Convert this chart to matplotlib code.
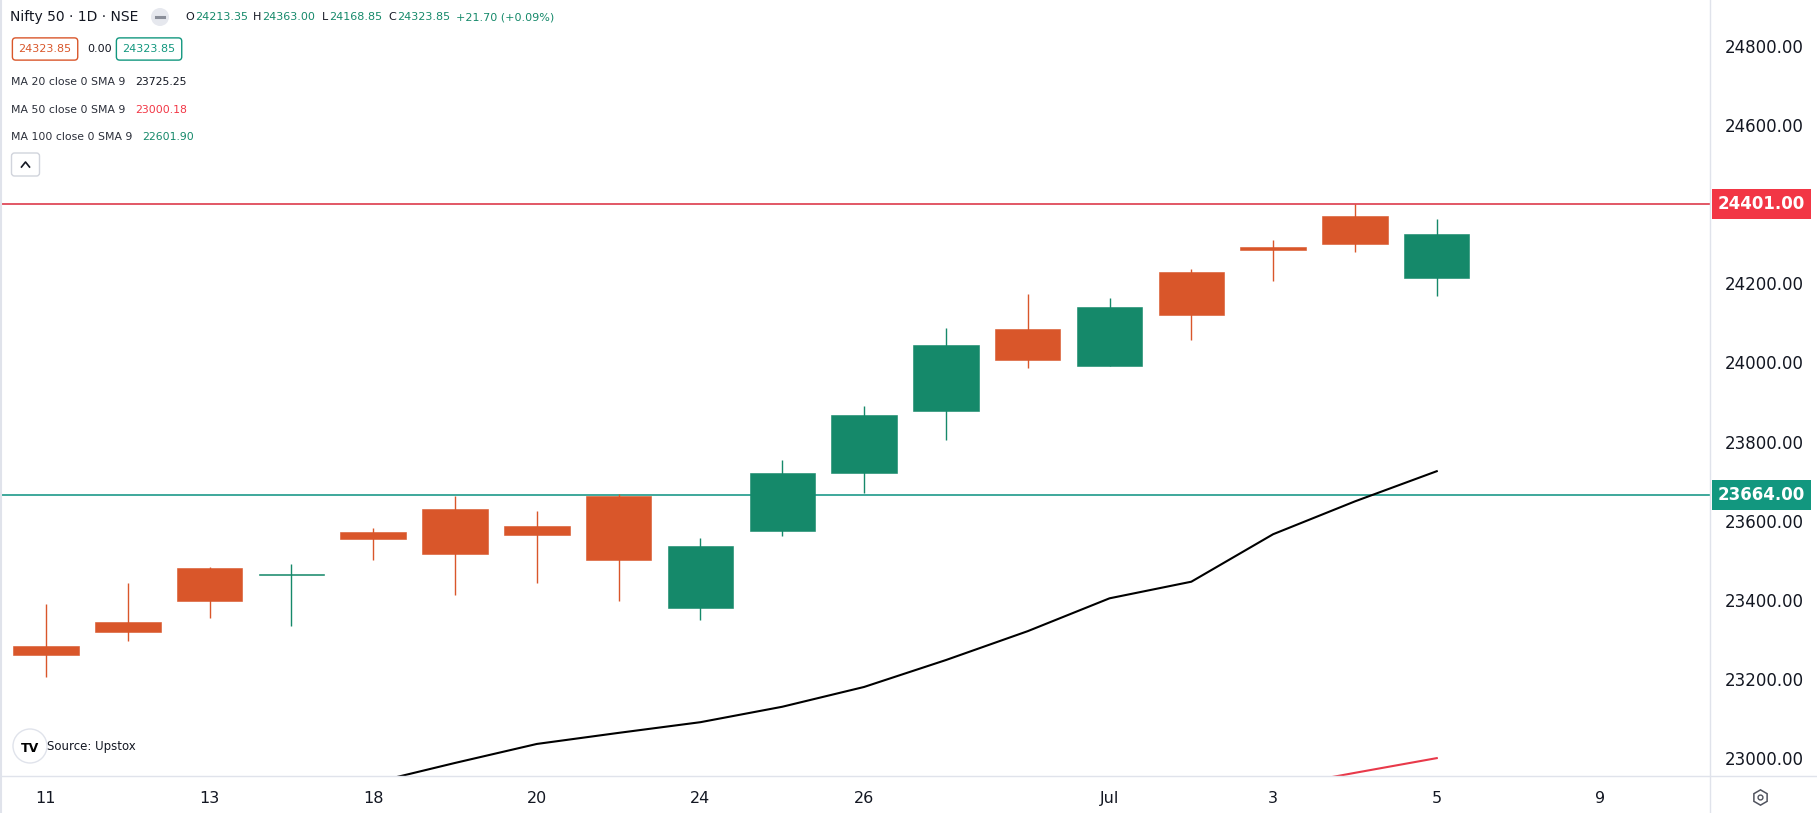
import matplotlib
matplotlib.use('Agg')
import matplotlib.pyplot as plt
from matplotlib.patches import Circle, FancyBboxPatch
from matplotlib.lines import Line2D
import numpy as np

# daily candles, Nifty 50, Jun 11 - Jul 5
days = ['Jun 11', 'Jun 12', 'Jun 13', 'Jun 14', 'Jun 18', 'Jun 19', 'Jun 20', 'Jun 21', 'Jun 24',
        'Jun 25', 'Jun 26', 'Jun 27', 'Jun 28', 'Jul 1', 'Jul 2', 'Jul 3', 'Jul 4', 'Jul 5']
opens = [23283, 23344, 23480, 23464, 23572, 23630, 23587, 23663, 23380,
         23575, 23721, 23878, 24085, 23992, 24229, 24292, 24370, 24213.35]
highs = [23390, 23443, 23484, 23490, 23582, 23663, 23625, 23668, 23556,
         23753, 23890, 24087, 24173, 24163, 24236, 24309, 24401, 24363.00]
lows = [23206, 23297, 23355, 23334, 23500, 23413, 23443, 23398, 23350,
        23561, 23671, 23805, 23987, 23992, 24058, 24207, 24280, 24168.85]
closes = [23262, 23320, 23398, 23466, 23554, 23515, 23565, 23500, 23536,
          23721, 23867, 24044, 24007, 24140, 24121, 24285, 24300, 24323.85]

# moving averages (only the visible part)
ma20 = [None, None, None, None, 22938, 22988, 23036, 23064, 23091,
        23130, 23180, 23248, 23321, 23404, 23446, 23566, 23649, 23725.25]
ma50 = [None] * 15 + [22925, 22963, 23000.18]

# horizontal levels
resistance = 24401.00
support = 23664.00

# x axis labels (bar index -> text), two future days continue the spacing
tick_idx = [0, 2, 4, 6, 8, 10, 13, 15, 17, 19]
tick_txt = ['11', '13', '18', '20', '24', '26', 'Jul', '3', '5', '9']
yticks = list(range(23000, 24801, 200))

UP = '#15896A'
DOWN = '#D9562A'
RED = '#F23645'
TEAL = '#12977F'
TXT = '#131722'
GRID = '#E0E3EB'

W, H = 1817, 813
fig = plt.figure(figsize=(W / 100, H / 100), dpi=100)
ax = fig.add_axes([0, 37 / H, 1710 / W, 776 / H])

x = np.arange(len(days))
o = np.array(opens); c = np.array(closes)
cols = [UP if cc >= oo else DOWN for oo, cc in zip(o, c)]
bottom = np.minimum(o, c)
height = np.maximum(np.abs(c - o), 2.5)
ax.vlines(x, lows, highs, colors=cols, linewidth=1.0, zorder=2)
ax.bar(x, height, bottom=bottom, width=0.8, color=cols, edgecolor=cols, linewidth=0.4, zorder=3)

ma20_arr = np.array([np.nan if v is None else v for v in ma20], dtype=float)
ma50_arr = np.array([np.nan if v is None else v for v in ma50], dtype=float)
ax.plot(x, ma20_arr, color='black', lw=1.5, zorder=4)
ax.plot(x, ma50_arr, color='#E8394A', lw=1.5, zorder=4)

ax.axhline(resistance, color='#DD3B4C', lw=1.2, zorder=1)
ax.axhline(support, color='#1E9A8A', lw=1.2, zorder=1)

ax.set_xlim(-0.562, 20.34)
ax.set_ylim(22955, 24916)
for s in ax.spines.values():
    s.set_visible(False)

ax.yaxis.tick_right()
ax.set_yticks(yticks)
ax.set_yticklabels(['%.2f' % v for v in yticks])
ax.tick_params(axis='y', length=0, pad=10.8, labelsize=12, labelcolor=TXT)
ax.set_xticks(tick_idx)
ax.set_xticklabels(tick_txt)
ax.tick_params(axis='x', length=0, pad=10.5, labelsize=11.5, labelcolor=TXT)

# price tags on the right scale
for lvl, col in [(resistance, RED), (support, TEAL)]:
    ax.annotate('%.2f' % lvl, xy=(1, lvl), xycoords=('axes fraction', 'data'),
                xytext=(5.8, 0), textcoords='offset points', ha='left', va='center',
                color='white', fontsize=12, fontweight='bold',
                bbox=dict(boxstyle='square,pad=0.36', fc=col, ec='none'),
                annotation_clip=False, zorder=10)

# frame lines of the chart panes
T = fig.dpi_scale_trans
def P(px, py):
    return px / 100, (H - py) / 100
fig.add_artist(Line2D([17.10, 17.10], [0, H / 100], transform=T, color=GRID, lw=1))
fig.add_artist(Line2D([0, W / 100], [(H - 776) / 100] * 2, transform=T, color=GRID, lw=1))
fig.add_artist(Line2D([0.005, 0.005], [0, H / 100], transform=T, color=GRID, lw=1.5))

# legend block top-left
def ftext(px, py, s, **kw):
    fig.text(px / W, 1 - py / H, s, va='center', ha='left', **kw)

ftext(10, 17, 'Nifty 50 · 1D · NSE', fontsize=10, color=TXT)
fig.add_artist(Circle(P(160, 17), 0.09, transform=T, fc='#E6E8EE', ec='none'))
fig.add_artist(Line2D([1.56, 1.64], [(H - 17) / 100] * 2, transform=T, color='#8A8E99', lw=2.2))
ohlc = [(185, 'O', TXT), (195, '24213.35', UP), (253, 'H', TXT), (262, '24363.00', UP),
        (322, 'L', TXT), (329, '24168.85', UP), (388, 'C', TXT), (397, '24323.85', UP),
        (456, '+21.70 (+0.09%)', UP)]
for px, s, col in ohlc:
    ftext(px, 17, s, fontsize=8, color=col)

ftext(18.5, 49, '24323.85', fontsize=8, color=DOWN,
      bbox=dict(boxstyle='round,pad=0.55,rounding_size=0.3', fc='white', ec=DOWN, lw=1))
ftext(87, 49, '0.00', fontsize=8, color=TXT)
ftext(122.5, 49, '24323.85', fontsize=8, color=TEAL,
      bbox=dict(boxstyle='round,pad=0.55,rounding_size=0.3', fc='white', ec=TEAL, lw=1))

ma_rows = [(82, 'MA 20 close 0 SMA 9', '23725.25', TXT, 135),
           (110, 'MA 50 close 0 SMA 9', '23000.18', RED, 135),
           (137, 'MA 100 close 0 SMA 9', '22601.90', UP, 142)]
for py, lab, val, col, vx in ma_rows:
    ftext(11, py, lab, fontsize=7.8, color='#2A2E39')
    ftext(vx, py, val, fontsize=7.8, color=col)

fig.add_artist(FancyBboxPatch(P(11.5, 176), 0.28, 0.23, boxstyle='round,pad=0,rounding_size=0.03',
                              transform=T, fc='white', ec='#D1D4DC', lw=1))
fig.add_artist(Line2D([0.215, 0.255, 0.295], [(H - 167) / 100, (H - 162) / 100, (H - 167) / 100],
                      transform=T, color=TXT, lw=1.2))

# source badge
fig.add_artist(Circle(P(30, 746), 0.17, transform=T, fc='white', ec='#E0E3EB', lw=1))
ftext(21, 748, 'TV', fontsize=9, fontweight='heavy', color='black')
ftext(47, 746, 'Source: Upstox', fontsize=8.5, color=TXT)

# settings icon bottom-right
fig.add_artist(Line2D([17.60], [(H - 797) / 100], transform=T, marker='h', ms=11,
                      mfc='none', mec='#50535E', mew=1.1))
fig.add_artist(Line2D([17.60], [(H - 797) / 100], transform=T, marker='o', ms=3.5,
                      mfc='none', mec='#50535E', mew=1.0))

fig.savefig('out.png', dpi=100, facecolor='white')
